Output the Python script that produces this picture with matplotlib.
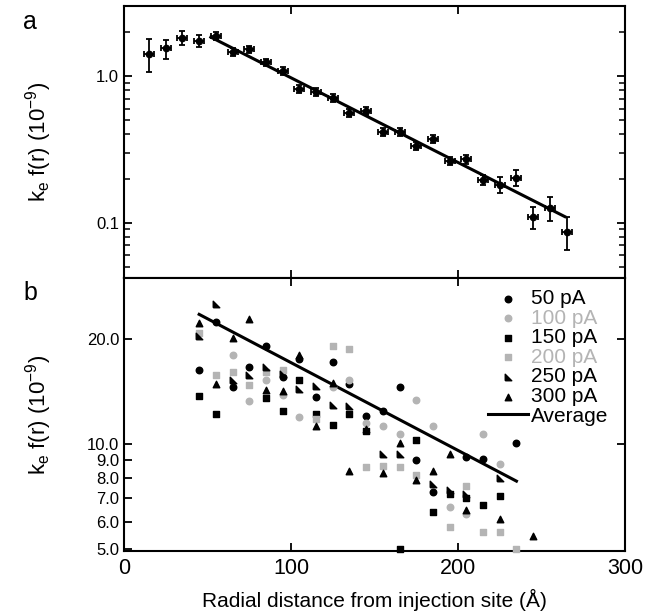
import matplotlib
matplotlib.use("Agg")
import matplotlib.pyplot as plt
from matplotlib.ticker import FixedLocator, NullLocator, NullFormatter, FixedFormatter, LogLocator
import numpy as np

plt.rcParams['font.family'] = ['Liberation Sans', 'DejaVu Sans']
plt.rcParams['mathtext.fontset'] = 'custom'
plt.rcParams['mathtext.rm'] = 'Liberation Sans'
plt.rcParams['mathtext.it'] = 'Liberation Sans'

# ---------------- panel a data ----------------
a_x = [15, 25, 35, 45, 55, 65, 75, 85, 95, 105, 115, 125, 135, 145, 155, 165,
       175, 185, 195, 205, 215, 225, 235, 245, 255, 265]
a_y = [1.415, 1.55, 1.82, 1.745, 1.87, 1.45, 1.52, 1.24, 1.08, 0.815, 0.78, 0.707,
       0.56, 0.58, 0.416, 0.418, 0.333, 0.374, 0.263, 0.27, 0.197, 0.182, 0.202,
       0.109, 0.126, 0.087]
a_err_up = [0.37, 0.22, 0.22, 0.17, 0.12, 0.09, 0.09, 0.07, 0.065, 0.05, 0.05, 0.045,
            0.035, 0.035, 0.026, 0.026, 0.021, 0.024, 0.017, 0.018, 0.016, 0.022, 0.025,
            0.019, 0.024, 0.022]
a_err_dn = [0.35, 0.24, 0.19, 0.16, 0.12, 0.09, 0.09, 0.07, 0.065, 0.05, 0.05, 0.045,
            0.035, 0.035, 0.026, 0.026, 0.021, 0.024, 0.017, 0.018, 0.016, 0.022, 0.025,
            0.019, 0.024, 0.022]
a_xerr = 3.0
a_fit_x = [52, 264]
a_fit_y = [1.84, 0.110]

# ---------------- panel b data ----------------
s50_x = [45, 55, 65, 75, 85, 95, 105, 115, 125, 135, 145, 155, 165, 175, 185, 205, 215, 235]
s50_y = [16.3, 22.5, 14.6, 16.7, 19.1, 15.6, 17.6, 13.7, 17.2, 14.9, 12.1, 12.5, 14.6,
         9.0, 7.3, 9.2, 9.1, 10.1]
s100_x = [65, 75, 85, 95, 105, 125, 135, 145, 155, 165, 175, 185, 195, 205, 215, 225]
s100_y = [18.1, 13.3, 15.3, 13.9, 12.0, 14.6, 15.3, 11.5, 11.3, 10.7, 13.4, 11.3,
          6.6, 6.3, 10.7, 8.8]
s150_x = [45, 55, 85, 95, 105, 115, 125, 135, 145, 165, 175, 185, 195, 205, 215, 225]
s150_y = [13.8, 12.2, 13.6, 12.5, 15.3, 12.2, 11.4, 12.2, 10.9, 5.0, 10.3, 6.4,
          7.2, 7.0, 6.7, 7.1]
s200_x = [45, 55, 65, 75, 85, 95, 115, 125, 135, 145, 155, 165, 175, 195, 205, 215, 225, 235]
s200_y = [20.8, 15.8, 16.1, 14.8, 16.1, 16.4, 11.8, 19.2, 18.8, 8.6, 8.7, 8.6, 8.2,
          5.8, 7.6, 5.6, 5.6, 5.0]
s250_x = [45, 55, 65, 75, 85, 95, 105, 115, 125, 135, 155, 165, 185, 195, 205, 225]
s250_y = [20.4, 25.2, 15.3, 15.8, 16.7, 15.9, 14.4, 14.7, 13.0, 12.9, 9.4, 9.4,
          7.7, 7.4, 7.2, 8.0]
s300_x = [45, 55, 65, 75, 85, 95, 105, 115, 125, 135, 145, 155, 165, 175, 185, 195, 205, 225, 245]
s300_y = [22.3, 14.9, 20.2, 22.9, 14.3, 14.2, 18.0, 11.3, 15.0, 8.4, 11.1, 8.3, 10.1,
          7.9, 8.4, 9.4, 6.5, 6.1, 5.46]
avg_x = [45, 235]
avg_y = [23.6, 7.85]

series_labels = ['50 pA', '100 pA', '150 pA', '200 pA', '250 pA', '300 pA']
b_yticks = [5, 6, 7, 8, 9, 10, 20]
b_yticklabels = ['5.0', '6.0', '7.0', '8.0', '9.0', '10.0', '20.0']

GRAY = '#b4b4b4'
corner = [(-1, -1), (1, -1), (-1, 1), (-1, -1)]

fig = plt.figure(figsize=(6.62, 6.13), dpi=100)
W, H = 662, 613
L, R = 124, 625
TOP, MID, BOT = 6, 278, 551
axa = fig.add_axes([L / W, 1 - MID / H, (R - L) / W, (MID - TOP) / H])
axb = fig.add_axes([L / W, 1 - BOT / H, (R - L) / W, (BOT - MID) / H])

ylab = r'k$_{\mathregular{e}}$ f(r) (10$^{\mathregular{-9}}$)'
for ax in (axa, axb):
    for s in ax.spines.values():
        s.set_linewidth(1.5)
    ax.set_xlim(0, 300)
    ax.set_yscale('log')
    ax.xaxis.set_major_locator(FixedLocator([0, 100, 200, 300]))
    ax.xaxis.set_minor_locator(NullLocator())
    ax.set_ylabel(ylab, fontsize=16)
    ax.yaxis.set_label_coords(-0.14, 0.5)

# panel a
axa.errorbar(a_x, a_y, yerr=[a_err_dn, a_err_up], xerr=a_xerr, fmt='o', color='black',
             markersize=4.5, elinewidth=1.3, capsize=2.5, capthick=1.3)
axa.plot(a_fit_x, a_fit_y, color='black', lw=2.2)
axa.set_ylim(0.042, 3.0)
axa.yaxis.set_major_locator(FixedLocator([0.1, 1.0]))
axa.yaxis.set_major_formatter(FixedFormatter(['0.1', '1.0']))
axa.yaxis.set_minor_locator(LogLocator(base=10, subs=np.arange(2, 10)))
axa.yaxis.set_minor_formatter(NullFormatter())
axa.tick_params(which='both', direction='in', top=True, right=True, labelbottom=False)
axa.tick_params(which='major', length=6, width=1.3, labelsize=12)
axa.tick_params(which='minor', length=4, width=1.1)

# panel b
ms = 22
axb.scatter(s50_x, s50_y, s=ms, marker='o', color='black', clip_on=False, zorder=3, label=series_labels[0])
axb.scatter(s100_x, s100_y, s=ms, marker='o', color=GRAY, clip_on=False, zorder=3, label=series_labels[1])
axb.scatter(s150_x, s150_y, s=ms, marker='s', color='black', clip_on=False, zorder=3, label=series_labels[2])
axb.scatter(s200_x, s200_y, s=ms, marker='s', color=GRAY, clip_on=False, zorder=3, label=series_labels[3])
axb.scatter(s250_x, s250_y, s=ms, marker=corner, color='black', clip_on=False, zorder=3, label=series_labels[4])
axb.scatter(s300_x, s300_y, s=ms, marker='^', color='black', clip_on=False, zorder=3, label=series_labels[5])
axb.plot(avg_x, avg_y, color='black', lw=2.2, label='Average')
axb.set_ylim(4.95, 30.0)
axb.yaxis.set_major_locator(FixedLocator(b_yticks))
axb.yaxis.set_major_formatter(FixedFormatter(b_yticklabels))
axb.yaxis.set_minor_locator(NullLocator())
axb.tick_params(which='both', direction='in', top=True, right=False)
axb.tick_params(which='major', length=6, width=1.3)
axb.tick_params(axis='y', labelsize=12)
axb.tick_params(axis='x', labelsize=15.5, pad=5)
axb.set_xlabel('Radial distance from injection site (\u00c5)', fontsize=15, labelpad=7)

axr = axb.twinx()
axr.set_yscale('log')
axr.set_ylim(axb.get_ylim())
axr.yaxis.set_major_locator(FixedLocator([10, 20]))
axr.yaxis.set_minor_locator(NullLocator())
axr.yaxis.set_major_formatter(NullFormatter())
axr.tick_params(which='major', direction='in', length=6, width=1.3)
for s in axr.spines.values():
    s.set_visible(False)

leg = axb.legend(loc='upper left', bbox_to_anchor=((488 - L) / (R - L), (BOT - 289) / (BOT - MID)),
                 frameon=False, fontsize=15, handlelength=1.9, handletextpad=0.15,
                 labelspacing=0.03, borderpad=0, borderaxespad=0, markerscale=1.0)
text_colors = ['black', GRAY, 'black', GRAY, 'black', 'black', 'black']
for t, c in zip(leg.get_texts(), text_colors):
    t.set_color(c)

fig.text(30 / W, 1 - 22 / H, 'a', fontsize=18, va='center', ha='center')
fig.text(30 / W, 1 - 293 / H, 'b', fontsize=18, va='center', ha='center')

fig.savefig('out.png', dpi=100)
